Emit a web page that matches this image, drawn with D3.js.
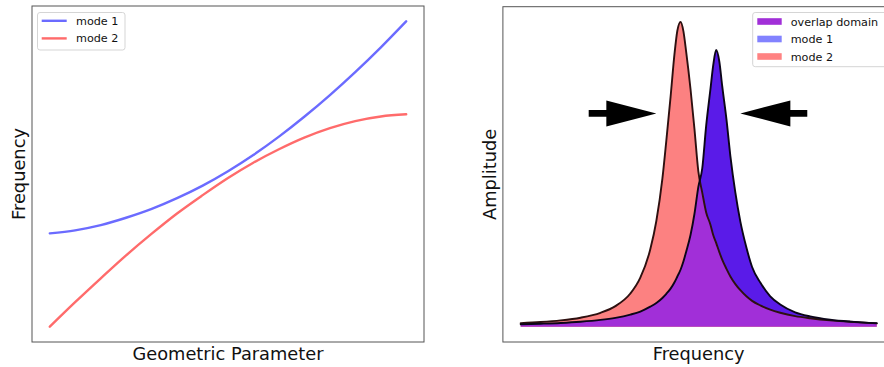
<!DOCTYPE html>
<html>
<head>
<meta charset="utf-8">
<script src="https://cdn.jsdelivr.net/npm/d3@7"></script>
<style>
  body { margin: 0; background: #fff; }
  svg { display: block; }
  text { font-family: "DejaVu Sans", sans-serif; fill: #111; }
</style>
</head>
<body>
<svg id="chart" width="884" height="367"></svg>
<script>
// ---- Left panel: mode frequencies versus a geometric parameter (avoided crossing)
const geomParam = [0, 0.71, 1.43, 2.14, 2.86, 3.57, 4.29, 5.00, 5.71, 6.43, 7.14, 7.86, 8.57, 9.29, 10.0];
const mode1Freq = [1.306, 1.316, 1.333, 1.357, 1.386, 1.421, 1.462, 1.509, 1.562, 1.622, 1.687, 1.758, 1.833, 1.914, 1.999];
const mode2Freq = [1.001, 1.081, 1.159, 1.234, 1.305, 1.371, 1.431, 1.487, 1.537, 1.581, 1.619, 1.650, 1.673, 1.688, 1.695];

// ---- Right panel: amplitude spectra of the two modes
const spectrumFreq = [0, 0.56, 1.12, 1.68, 2.24, 2.66, 3.08, 3.36, 3.64, 3.81, 3.98, 4.09, 4.21, 4.32, 4.40, 4.49,
  4.57, 4.65, 4.77, 4.88, 4.99, 5.10, 5.21, 5.33, 5.41, 5.49, 5.58, 5.66, 5.78, 5.89, 6.03, 6.17, 6.34, 6.50,
  6.73, 7.01, 7.29, 7.71, 8.13, 8.69, 9.25, 10.0];
const mode1Amp = [0.008, 0.010, 0.0125, 0.0164, 0.0224, 0.0293, 0.040, 0.050, 0.066, 0.078, 0.0945, 0.108, 0.125, 0.146, 0.165, 0.187,
  0.214, 0.247, 0.301, 0.370, 0.459, 0.520, 0.660, 0.780, 0.860, 0.908, 0.870, 0.790, 0.680, 0.560, 0.440, 0.345, 0.260, 0.196,
  0.145, 0.100, 0.073, 0.0475, 0.034, 0.0233, 0.017, 0.0119];
const mode2Amp = [0.0118, 0.0154, 0.0208, 0.0297, 0.0457, 0.0677, 0.109, 0.161, 0.254, 0.347, 0.486, 0.610, 0.754, 0.895, 0.971, 1.000,
  0.970, 0.900, 0.780, 0.650, 0.510, 0.440, 0.375, 0.335, 0.300, 0.275, 0.245, 0.220, 0.190, 0.165, 0.140, 0.120, 0.100, 0.085,
  0.070, 0.056, 0.046, 0.035, 0.028, 0.021, 0.0165, 0.011];

// Arrows pointing at the two peaks (frequency of tail and tip, amplitude level)
const arrowTailFreq = [1.91, 8.05];
const arrowTipFreq = [3.81, 6.17];
const arrowLevel = 0.70;

const leftLegend = ["mode 1", "mode 2"];
const rightLegend = ["overlap domain", "mode 1", "mode 2"];

// ---- Styling
const lineColors = ["#6b6bff", "#ff6b6b"];
const fillMode1 = "#5a1be8";
const fillMode2 = "#fc8181";
const fillOverlap = "#a12fd8";
const legendPatchColors = ["#a12fd8", "#8282ff", "#ff8282"];

const svg = d3.select("#chart");

// matplotlib-like 5% padding on a data extent
function padded(extent) {
  const span = extent[1] - extent[0];
  return [extent[0] - 0.05 * span, extent[1] + 0.05 * span];
}

// ================= Left panel =================
const L = { x0: 32, x1: 424, y0: 6, y1: 342 };
const xL = d3.scaleLinear().domain(padded(d3.extent(geomParam))).range([L.x0, L.x1]);
const yL = d3.scaleLinear()
  .domain(padded([d3.min(mode2Freq.concat(mode1Freq)), d3.max(mode1Freq.concat(mode2Freq))]))
  .range([L.y1, L.y0]);

const gL = svg.append("g");
const lineL = d3.line().x(d => xL(d[0])).y(d => yL(d[1])).curve(d3.curveMonotoneX);
[mode1Freq, mode2Freq].forEach((series, i) => {
  gL.append("path")
    .datum(geomParam.map((g, k) => [g, series[k]]))
    .attr("d", lineL)
    .attr("fill", "none")
    .attr("stroke", lineColors[i])
    .attr("stroke-width", 2.4)
    .attr("stroke-linecap", "round");
});

gL.append("rect")
  .attr("x", L.x0).attr("y", L.y0)
  .attr("width", L.x1 - L.x0).attr("height", L.y1 - L.y0)
  .attr("fill", "none").attr("stroke", "#555").attr("stroke-width", 1);

// legend (left)
const legL = gL.append("g").attr("transform", "translate(37.5,12.5)");
legL.append("rect").attr("width", 87.5).attr("height", 37.5).attr("rx", 2.5)
  .attr("fill", "#fff").attr("fill-opacity", 0.8).attr("stroke", "#d0d0d0").attr("stroke-width", 0.9);
leftLegend.forEach((name, i) => {
  const cy = 8.3 + i * 17.6;
  legL.append("line").attr("x1", 4.2).attr("x2", 29.2).attr("y1", cy).attr("y2", cy)
    .attr("stroke", lineColors[i]).attr("stroke-width", 2.4);
  legL.append("text").attr("x", 38.5).attr("y", cy + 4).attr("font-size", 11.2).text(name);
});

gL.append("text")
  .attr("x", (L.x0 + L.x1) / 2).attr("y", 360)
  .attr("text-anchor", "middle").attr("font-size", 17.8)
  .text("Geometric Parameter");
gL.append("text")
  .attr("transform", `translate(25,${(L.y0 + L.y1) / 2}) rotate(-90)`)
  .attr("text-anchor", "middle").attr("font-size", 17.8)
  .text("Frequency");

// ================= Right panel =================
const R = { x0: 502.9, x1: 894.5, y0: 6.7, y1: 342 };
const xR = d3.scaleLinear().domain(padded(d3.extent(spectrumFreq))).range([R.x0, R.x1]);
const yR = d3.scaleLinear().domain(padded([0, d3.max(mode1Amp.concat(mode2Amp))])).range([R.y1, R.y0]);

const gR = svg.append("g");
const defs = svg.append("defs");
const pts1 = spectrumFreq.map((f, k) => [f, mode1Amp[k]]);
const pts2 = spectrumFreq.map((f, k) => [f, mode2Amp[k]]);

const areaR = d3.area().x(d => xR(d[0])).y0(yR(0)).y1(d => yR(d[1])).curve(d3.curveMonotoneX);
const lineR = d3.line().x(d => xR(d[0])).y(d => yR(d[1])).curve(d3.curveMonotoneX);

// region under mode 1, used to cut out the overlap domain
defs.append("clipPath").attr("id", "under-mode1")
  .append("path").datum(pts1).attr("d", areaR);

gR.append("path").datum(pts1).attr("d", areaR).attr("fill", fillMode1);
gR.append("path").datum(pts2).attr("d", areaR).attr("fill", fillMode2);
gR.append("path").datum(pts2).attr("d", areaR).attr("fill", fillOverlap)
  .attr("clip-path", "url(#under-mode1)");

gR.append("path").datum(pts2).attr("d", lineR)
  .attr("fill", "none").attr("stroke", "#2e1010").attr("stroke-width", 1.9)
  .attr("stroke-linecap", "round");
gR.append("path").datum(pts1).attr("d", lineR)
  .attr("fill", "none").attr("stroke", "#0b0518").attr("stroke-width", 1.9)
  .attr("stroke-linecap", "round");

// arrows
const headLen = 50, headW = 26, shaftW = 6.6;
arrowTailFreq.forEach((tf, i) => {
  const x0 = xR(tf), x1 = xR(arrowTipFreq[i]), y = yR(arrowLevel);
  const dir = Math.sign(x1 - x0);
  const xb = x1 - dir * headLen;
  const p = [
    [x0, y - shaftW / 2], [xb, y - shaftW / 2], [xb, y - headW / 2], [x1, y],
    [xb, y + headW / 2], [xb, y + shaftW / 2], [x0, y + shaftW / 2]
  ];
  gR.append("path").attr("d", "M" + p.map(q => q.join(",")).join("L") + "Z").attr("fill", "#000");
});

gR.append("rect")
  .attr("x", R.x0).attr("y", R.y0)
  .attr("width", R.x1 - R.x0).attr("height", R.y1 - R.y0)
  .attr("fill", "none").attr("stroke", "#555").attr("stroke-width", 1);

// legend (right)
const legR = gR.append("g").attr("transform", "translate(752.7,12.5)");
legR.append("rect").attr("width", 136.5).attr("height", 54.2).attr("rx", 2.5)
  .attr("fill", "#fff").attr("fill-opacity", 0.8).attr("stroke", "#d0d0d0").attr("stroke-width", 0.9);
rightLegend.forEach((name, i) => {
  const cy = 9 + i * 17.5;
  legR.append("rect").attr("x", 4.6).attr("y", cy - 3.3).attr("width", 24.4).attr("height", 6.6)
    .attr("fill", legendPatchColors[i]);
  legR.append("text").attr("x", 38).attr("y", cy + 4).attr("font-size", 11.2).text(name);
});

gR.append("text")
  .attr("x", (R.x0 + R.x1) / 2).attr("y", 360)
  .attr("text-anchor", "middle").attr("font-size", 17.8)
  .text("Frequency");
gR.append("text")
  .attr("transform", `translate(496,${(R.y0 + R.y1) / 2}) rotate(-90)`)
  .attr("text-anchor", "middle").attr("font-size", 17.8)
  .text("Amplitude");
</script>
</body>
</html>
